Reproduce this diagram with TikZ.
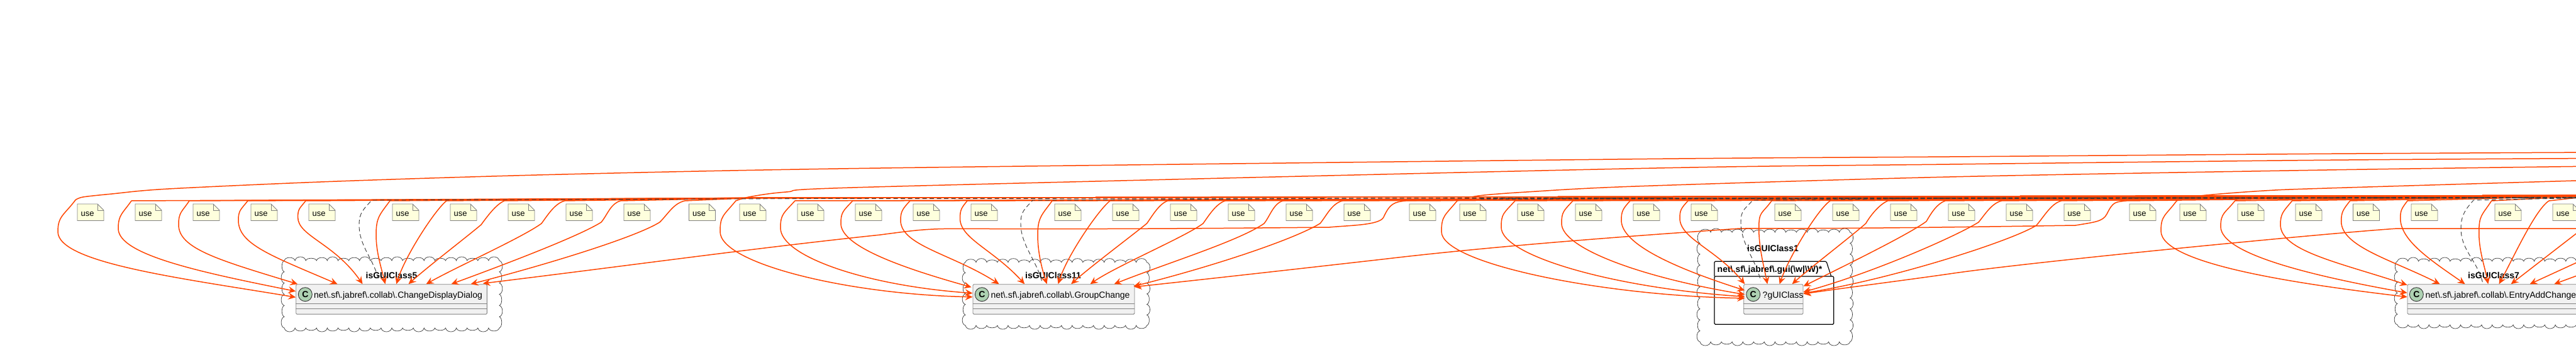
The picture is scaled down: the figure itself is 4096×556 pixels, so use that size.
\documentclass[tikz,border=0pt]{standalone}
\usepackage{fontspec}
\setmainfont{Liberation Sans}
\usetikzlibrary{arrows.meta}
\definecolor{usecolor}{HTML}{FF4500}
\definecolor{dashcolor}{HTML}{383838}
\definecolor{notefill}{HTML}{FEFFDD}
\definecolor{noteline}{HTML}{818181}
\definecolor{classfill}{HTML}{F1F1F1}
\definecolor{classline}{HTML}{828282}
\definecolor{spotfill}{HTML}{ADD1B2}
\tikzset{
  usearrow/.style={usecolor,line width=1.5pt,line join=round,-{Stealth[length=12pt,width=11pt,inset=4.5pt]}},
  usedash/.style={dashcolor,line width=0.9pt,dash pattern=on 7pt off 4.5pt},
  usenote/.style={draw=noteline,fill=notefill,line width=0.8pt},
  usetext/.style={inner sep=0pt,font=\fontsize{13}{15}\selectfont},
  cloudline/.style={draw=dashcolor,line width=0.7pt},
  classbox/.style={draw=classline,fill=classfill,line width=0.9pt,rounded corners=1.5pt,inner sep=0pt},
  classname/.style={inner sep=0pt,anchor=base west,font=\fontsize{14}{16}\selectfont},
  boldname/.style={inner sep=0pt,font=\fontsize{14}{16}\selectfont\bfseries},
  spot/.style={circle,draw=black!80,fill=spotfill,line width=0.9pt,minimum size=22pt,inner sep=0pt,font=\fontsize{14}{16}\selectfont\bfseries},
  pkgline/.style={draw=black,line width=1.2pt,line join=round}
}
% scalloped rim: left, top, width, height
\newcommand{\cloudrim}[4]{
  \pgfmathtruncatemacro{\nw}{round(#3/17)}
  \pgfmathtruncatemacro{\nh}{round(#4/17)}
  \pgfmathsetmacro{\sw}{#3/\nw}
  \pgfmathsetmacro{\sh}{#4/\nh}
  \draw[cloudline] (#1,#2)
    \foreach \k [evaluate=\k as \bp using {5+1.5*mod(\k,3)}] in {1,...,\nw}{ .. controls +(\sw*0.1,-\bp) and +(-\sw*0.1,-\bp) .. ++(\sw,0)}
    \foreach \k [evaluate=\k as \bp using {5+1.5*mod(\k,2)}] in {1,...,\nh}{ .. controls +(\bp,\sh*0.1) and +(\bp,-\sh*0.1) .. ++(0,\sh)}
    \foreach \k [evaluate=\k as \bp using {5+1.5*mod(\k,3)}] in {1,...,\nw}{ .. controls +(-\sw*0.1,\bp) and +(\sw*0.1,\bp) .. ++(-\sw,0)}
    \foreach \k [evaluate=\k as \bp using {5+1.5*mod(\k,2)}] in {1,...,\nh}{ .. controls +(-\bp,-\sh*0.1) and +(-\bp,\sh*0.1) .. ++(0,-\sh)};
}
\begin{document}
\begin{tikzpicture}[x=1pt,y=-1pt]
\useasboundingbox (0,0) rectangle (4096,556);
\clip (0,0) rectangle (4096,556);
\coordinate (busR) at (4130,310.5);
\coordinate (busM) at (1190,314.5);
\coordinate (dashR) at (4130,314);

% clouds
\cloudrim{452}{414}{342}{107}
\cloudrim{1535}{416.7}{288.6}{100.3}
\cloudrim{2703}{369}{238.7}{174}
\cloudrim{3812}{415}{318}{101}
\node[boldname,anchor=base] (isGuiA) at (622.5,442.7) {isGUIClass5};
\node[boldname,anchor=base] (isGuiB) at (1674.5,442.7) {isGUIClass11};
\node[boldname,anchor=base] (isGuiC) at (2819,399) {isGUIClass1};
\node[boldname,anchor=base] (isGuiD) at (3965,442.7) {isGUIClass7};

% package round the third class
\draw[pkgline,rounded corners=1.5pt] (2726,439) -- (2726,415.3) -- (2904,415.3) -- (2911.7,439);
\node[pkgline,minimum width=189.7pt,minimum height=76.3pt,inner sep=0pt,rounded corners=1.5pt] (pkgGui) at (2820.85,477.15) {};
\node[boldname,anchor=base west] (pkgName) at (2730.5,432) {net\textbackslash.sf\textbackslash.jabref\textbackslash.gui(\textbackslash w|\textbackslash W)*};

% classes
\node[classbox,minimum width=303.6pt,minimum height=47.4pt] (classDialog) at (622.5,475.4) {};
\node[classbox,minimum width=257pt,minimum height=47.4pt] (classGroup) at (1675.5,475.4) {};
\node[classbox,minimum width=94.3pt,minimum height=47.4pt] (classGui) at (2819.85,475.4) {};
\node[classbox,minimum width=274pt,minimum height=47.4pt] (classEntry) at (3965,475.4) {};
\foreach \cname in {classDialog,classGroup,classGui,classEntry}{
  \draw[classline,line width=0.9pt] ([yshift=-31.6pt]\cname.north west) -- ([yshift=-31.6pt]\cname.north east);
  \draw[classline,line width=0.9pt] ([yshift=-39.6pt]\cname.north west) -- ([yshift=-39.6pt]\cname.north east);
}
\node[spot] (spotDialog) at (485.3,467.7) {C};
\node[spot] (spotGroup) at (1561.3,467.7) {C};
\node[spot] (spotGui) at (2787.7,467.7) {C};
\node[spot] (spotEntry) at (3842.3,467.7) {C};
\node[classname] (nameDialog) at (499,473.7) {net\textbackslash.sf\textbackslash.jabref\textbackslash.collab\textbackslash.ChangeDisplayDialog};
\node[classname] (nameGroup) at (1575.3,473.7) {net\textbackslash.sf\textbackslash.jabref\textbackslash.collab\textbackslash.GroupChange};
\node[classname] (nameGui) at (2802.5,473.7) {?gUIClass};
\node[classname] (nameEntry) at (3856.3,473.7) {net\textbackslash.sf\textbackslash.jabref\textbackslash.collab\textbackslash.EntryAddChange};

% notes
\foreach \nx [count=\ni] in {123,215,307,399,491,624,716,808,900,992,1095.5,1176,1268,1360,1452,1544,1677,1769,1861,1953,2045,2137,2241,2321,2413,2505,2597,2689,2822,2914,3006,3098,3190,3282,3386,3466,3558,3650,3741.5,3834,3967,4059}{
  \draw[usenote] (\nx,324) -- ++(32,0) -- ++(10,10) -- ++(0,16.5) -- ++(-42,0) -- cycle;
  \draw[noteline,line width=0.8pt] (\nx+32,324) -- ++(0,10) -- ++(10,0);
  \node[usetext,anchor=base west] (note\ni) at (\nx+5.5,343.2) {use};
}

% first class
\draw[usearrow] plot[smooth] coordinates {(4130,242) (3700,244.3) (3100,249) (2600,252.7) (1400,267) (893,277) (536,288) (268,300) (178,308) (132,313) (120,317.7)} -- (120,317.7) .. controls +(-18,24) and +(0,-25) .. (92,368) .. controls +(0,50) and +(-180,-30) .. ([shift={(0,21)}]classDialog.north west);
\draw[usearrow] (busR) -- (busM) -- (209,319) .. controls +(-14,20) and +(0,-22) .. (188,363) .. controls +(0,42) and +(-150,-30) .. ([shift={(0,11.5)}]classDialog.north west);
\draw[usearrow] (busR) -- (busM) -- (301,319) .. controls +(-12,18) and +(0,-20) .. (284,357) .. controls +(0,38) and +(-125,-38) .. ([shift={(3,0)}]classDialog.north west);
\draw[usearrow] (busR) -- (busM) -- (394,319) .. controls +(-11,14) and +(0,-16) .. (379,350) .. controls +(0,38) and +(-105,-45) .. ([shift={(66.3,0)}]classDialog.north west);
\draw[usearrow] (busR) -- (busM) -- (486,319) .. controls +(-9,12) and +(0,-14) .. (473.6,345) .. controls +(0,30) and +(-45,-65) .. ([shift={(106.3,0)}]classDialog.north west);
\draw[usearrow] (busR) -- (busM) -- (620,319) .. controls +(-16,22) and +(0,-28) .. (598,373) .. controls +(0,28) and +(-6,-25) .. ([shift={(142.3,0)}]classDialog.north west);
\draw[usearrow] (busR) -- (busM) -- (710,319) .. controls +(-18,14) and +(14,-45) .. ([shift={(160,0)}]classDialog.north west);
\draw[usearrow] (busR) -- (busM) -- (802,319) .. controls +(-14,6) and +(9,-12) .. (765,357) .. controls +(-25,21) and +(30,-27) .. ([shift={(179.3,0)}]classDialog.north west);
\draw[usearrow] (busR) -- (busM) -- (898,319) .. controls +(-16,4) and +(9,-12) .. (861,355) .. controls +(-30,22) and +(50,-28) .. ([shift={(207.3,0)}]classDialog.north west);
\draw[usearrow] (busR) -- (busM) -- (987,319) .. controls +(-16,4) and +(10,-12) .. (956,353) .. controls +(-35,22) and +(90,-33) .. ([shift={(247.3,0)}]classDialog.north west);
\draw[usearrow] (busR) -- (busM) -- (1089,319) .. controls +(-18,4) and +(14,-14) .. (1049,353) .. controls +(-40,25) and +(110,-28) .. ([shift={(278.3,0)}]classDialog.north west);
\draw[usearrow] (busR) -- (2235,319) .. controls +(-18,2) and +(10,-22) .. (2200,345) .. controls +(-6,13) and +(30,-3) .. (2114,361) .. controls +(-200,2) and +(200,1) .. (1525,363.3) .. controls +(-50,0) and +(60,-8) .. (1400,373) .. controls (1200,394) and (1000,422) .. ([shift={(297.6,-1)}]classDialog.north west);

% second class
\draw[usearrow] plot[smooth] coordinates {(4130,251.5) (3700,254.3) (3100,261) (2600,267.7) (1400,296.7) (1250,305) (1192,312.7) (1170,319)} -- (1170,319) .. controls +(-20,24) and +(0,-25) .. (1145,368) .. controls +(0,50) and +(-200,-4) .. ([shift={(0,20.5)}]classGroup.north west);
\draw[usearrow] (busR) -- (1264,319) .. controls +(-18,20) and +(0,-22) .. (1241,362) .. controls +(0,45) and +(-170,-12) .. ([shift={(0,14.5)}]classGroup.north west);
\draw[usearrow] (busR) -- (1355.8,319) .. controls +(-15,16) and +(0,-18) .. (1337,355) .. controls +(0,38) and +(-100,-28) .. ([shift={(-2,5)}]classGroup.north west);
\draw[usearrow] (busR) -- (1447,319) .. controls +(-12,13) and +(0,-14) .. (1432,350) .. controls +(0,40) and +(-75,-48) .. ([shift={(42,0)}]classGroup.north west);
\draw[usearrow] (busR) -- (1538,319) .. controls +(-9,11) and +(0,-14) .. (1526.5,347) .. controls +(0,32) and +(-50,-55) .. ([shift={(82.6,0)}]classGroup.north west);
\draw[usearrow] (busR) -- (1673,319) .. controls +(-16,22) and +(0,-28) .. (1650,373) .. controls +(0,28) and +(-8,-25) .. ([shift={(118,0)}]classGroup.north west);
\draw[usearrow] (busR) -- (1765,319) .. controls +(-18,14) and +(14,-45) .. ([shift={(136,0)}]classGroup.north west);
\draw[usearrow] (busR) -- (1856.6,319) .. controls +(-14,5) and +(8,-11) .. (1823.5,355) .. controls +(-22,18) and +(30,-27) .. ([shift={(156.6,0)}]classGroup.north west);
\draw[usearrow] (busR) -- (1948,319) .. controls +(-15,5) and +(8,-11) .. (1913,355) .. controls +(-28,21) and +(40,-28) .. ([shift={(187,0)}]classGroup.north west);
\draw[usearrow] (busR) -- (2040,319) .. controls +(-15,4) and +(9,-11) .. (2010,355) .. controls +(-40,28) and +(80,-32) .. ([shift={(225,0)}]classGroup.north west);
\draw[usearrow] (busR) -- (2134.7,319) .. controls +(-17,4) and +(10,-12) .. (2099,355) .. controls +(-45,27) and +(120,-30) .. ([shift={(256,3.5)}]classGroup.north west);
\draw[usearrow] (busR) -- (3381,319) .. controls +(-18,2) and +(10,-20) .. (3350,340) .. controls +(-6,12) and +(30,-5) .. (3300,358) .. controls +(-200,3) and +(200,0) .. (2766,363) .. controls (2650,371) and (2400,388) .. (2200,411.7) .. controls (2100,423) and (1950,440) .. ([shift={(257,4.5)}]classGroup.north west);

% third class
\draw[usearrow] plot[smooth] coordinates {(4130,264) (3700,270) (3100,281) (2600,296) (2427,305) (2351,311) (2317,319)} -- (2317,319) .. controls +(-20,24) and +(0,-25) .. (2292,368) .. controls +(0,50) and +(-230,-4) .. ([shift={(2,22.5)}]classGui.north west);
\draw[usearrow] (busR) -- (2409,319) .. controls +(-18,20) and +(0,-22) .. (2387,361) .. controls +(0,45) and +(-210,-14) .. ([shift={(2,20)}]classGui.north west);
\draw[usearrow] (busR) -- (2501,319) .. controls +(-15,16) and +(0,-18) .. (2483,355) .. controls +(0,38) and +(-170,-28) .. ([shift={(2,16.5)}]classGui.north west);
\draw[usearrow] (busR) -- (2592,319) .. controls +(-12,13) and +(0,-14) .. (2578,350) .. controls +(0,38) and +(-110,-35) .. ([shift={(2,10)}]classGui.north west);
\draw[usearrow] (busR) -- (2684,319) .. controls +(-11,12) and +(0,-13) .. (2671,346.7) .. controls +(0,32) and +(-45,-55) .. ([shift={(2,0)}]classGui.north west);
\draw[usearrow] (busR) -- (2817,319) .. controls +(-16,22) and +(0,-28) .. (2796.7,363) .. controls +(0,30) and +(-6,-30) .. ([shift={(38,0)}]classGui.north west);
\draw[usearrow] (busR) -- (2910,319) .. controls +(-20,14) and +(16,-45) .. ([shift={(57.3,0)}]classGui.north west);
\draw[usearrow] (busR) -- (3001.7,319) .. controls +(-14,6) and +(7,-12) .. (2966.7,355) .. controls +(-25,22) and +(30,-27) .. ([shift={(77.3,0)}]classGui.north west);
\draw[usearrow] (busR) -- (3093,319) .. controls +(-14,5) and +(7,-12) .. (3063,351.7) .. controls +(-30,22) and +(60,-30) .. ([shift={(95.3,3.5)}]classGui.north west);
\draw[usearrow] (busR) -- (3182.6,319) .. controls +(-16,4) and +(10,-12) .. (3146,353) .. controls +(-35,22) and +(110,-30) .. ([shift={(95.3,12.5)}]classGui.north west);
\draw[usearrow] (busR) -- (3277.7,319) .. controls +(-16,4) and +(12,-14) .. (3238,358) .. controls +(-40,25) and +(140,-22) .. ([shift={(95.3,14.5)}]classGui.north west);
\draw[usearrow] (4130,363) -- (3812,363) .. controls +(-120,8) and +(120,-18) .. (3100,435) .. controls +(-70,10) and +(70,-10) .. ([shift={(95.3,15.5)}]classGui.north west);

% fourth class
\draw[usearrow] plot[smooth] coordinates {(4130,286) (3700,299) (3600,303) (3498,311) (3461,319)} -- (3461,319) .. controls +(-18,24) and +(0,-25) .. (3436,367) .. controls +(0,55) and +(-150,-18) .. ([shift={(0,20.5)}]classEntry.north west);
\draw[usearrow] (busR) -- (3553.7,319) .. controls +(-16,20) and +(0,-22) .. (3531,360) .. controls +(0,45) and +(-140,-25) .. ([shift={(0,14)}]classEntry.north west);
\draw[usearrow] (busR) -- (3644.6,319) .. controls +(-14,17) and +(0,-18) .. (3626,357) .. controls +(0,42) and +(-105,-35) .. ([shift={(0,1.5)}]classEntry.north west);
\draw[usearrow] (busR) -- (3736.7,319) .. controls +(-11,14) and +(0,-15) .. (3722.7,351.7) .. controls +(0,40) and +(-75,-38) .. ([shift={(52,0)}]classEntry.north west);
\draw[usearrow] (busR) -- (3828,319) .. controls +(-9,12) and +(0,-13) .. (3816.7,346.7) .. controls +(0,35) and +(-55,-38) .. ([shift={(92,0)}]classEntry.north west);
\draw[usearrow] (busR) -- (3961.7,319) .. controls +(-16,24) and +(0,-28) .. (3941.7,370) .. controls +(0,28) and +(-6,-30) .. ([shift={(128.7,0)}]classEntry.north west);
\draw[usearrow] (busR) -- (4053,319) .. controls +(-22,14) and +(22,-40) .. ([shift={(146,0)}]classEntry.north west);
\draw[usearrow] (4130,345) -- ([shift={(165,0)}]classEntry.north west);
\draw[usearrow] (4130,402) -- ([shift={(195,0)}]classEntry.north west);
\draw[usearrow] (4130,426) -- ([shift={(233.7,0)}]classEntry.north west);

% dashed links
\draw[usedash] (dashR) -- (1300,315.5) -- (591,318) .. controls +(-12,14) and +(0,-20) .. (571,357) .. controls +(0,35) and +(-8,-35) .. ([shift={(132.3,-5)}]classDialog.north west);
\draw[usedash] (dashR) -- (2200,315) -- (1642,318) .. controls +(-12,14) and +(0,-20) .. (1623,355) .. controls +(0,35) and +(-8,-35) .. ([shift={(110.6,-2)}]classGroup.north west);
\draw[usedash] (dashR) -- (3100,315) -- (2787,318) .. controls +(-12,14) and +(0,-20) .. (2768,353) .. controls +(0,35) and +(-8,-35) .. ([shift={(27.3,-5)}]classGui.north west);
\draw[usedash] (dashR) -- (3933,318) .. controls +(-12,14) and +(0,-22) .. (3913,363) .. controls +(0,35) and +(-8,-35) .. ([shift={(120,-2)}]classEntry.north west);
% dashes pile up on the right part of the bus
\draw[usedash,line width=2.2pt,dash pattern=on 6pt off 4pt] (dashR) -- (2350,315.5);
\end{tikzpicture}
\end{document}
